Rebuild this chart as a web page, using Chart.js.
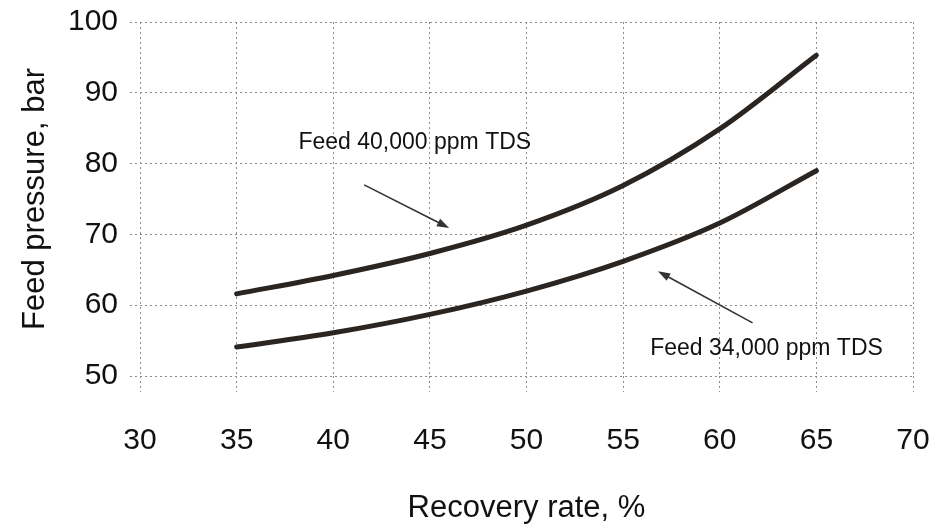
<!DOCTYPE html>
<html>
<head>
<meta charset="utf-8">
<title>Feed pressure vs recovery rate</title>
<script src="https://cdn.jsdelivr.net/npm/chart.js@4"></script>
<style>
    body { margin: 0; background: #fff; }
    #chart { display: block; }
</style>
</head>
<body>
<canvas id="chart" width="948" height="530"></canvas>
<script>
// values
const recovery_rate = [35, 40, 45, 50, 55, 60, 65];
const pressure_40000 = [61.6, 64.2, 67.3, 71.3, 76.9, 84.9, 95.3];
const pressure_34000 = [54.1, 56.1, 58.7, 62.0, 66.2, 71.6, 79.0];
const x_ticks = [30, 35, 40, 45, 50, 55, 60, 65, 70];
const y_ticks = [50, 60, 70, 80, 90, 100];

// callout labels, anchored in data units
const callouts = [
    { text: 'Feed 40,000 ppm TDS', x: 38.2, y: 82.9, from: [41.6, 77.0], to: [46.0, 70.9] },
    { text: 'Feed 34,000 ppm TDS', x: 56.4, y: 53.8, from: [61.7, 57.5], to: [56.8, 64.8] }
];

const FONT = 'Arial, "Liberation Sans", Helvetica, sans-serif';
const INK = '#111111';
const CURVE = '#2b2522';
const GRID = '#8c8c8c';

let pressure_chart;

const calloutPlugin = {
    id: 'callouts',
    afterDatasetsDraw(chart) {
        const ctx = chart.ctx;
        const xs = chart.scales.x;
        const ys = chart.scales.y;
        ctx.save();
        callouts.forEach(c => {
            ctx.font = '23px ' + FONT;
            ctx.fillStyle = INK;
            ctx.textAlign = 'left';
            ctx.textBaseline = 'middle';
            ctx.fillText(c.text, xs.getPixelForValue(c.x), ys.getPixelForValue(c.y));

            const x0 = xs.getPixelForValue(c.from[0]);
            const y0 = ys.getPixelForValue(c.from[1]);
            const x1 = xs.getPixelForValue(c.to[0]);
            const y1 = ys.getPixelForValue(c.to[1]);
            const ang = Math.atan2(y1 - y0, x1 - x0);
            const head = 13;
            ctx.strokeStyle = '#333';
            ctx.lineWidth = 1.6;
            ctx.beginPath();
            ctx.moveTo(x0, y0);
            ctx.lineTo(x1 - head * 0.8 * Math.cos(ang), y1 - head * 0.8 * Math.sin(ang));
            ctx.stroke();
            ctx.fillStyle = '#333';
            ctx.beginPath();
            ctx.moveTo(x1, y1);
            ctx.lineTo(x1 - head * Math.cos(ang - 0.33), y1 - head * Math.sin(ang - 0.33));
            ctx.lineTo(x1 - head * Math.cos(ang + 0.33), y1 - head * Math.sin(ang + 0.33));
            ctx.closePath();
            ctx.fill();
        });
        ctx.restore();
    }
};

setupChart();

function makeSeries(values) {
    return recovery_rate.map((r, i) => ({ x: r, y: values[i] }));
}

function curve(label, values) {
    return {
        label: label,
        data: makeSeries(values),
        borderColor: CURVE,
        borderWidth: 5,
        borderCapStyle: 'round',
        borderJoinStyle: 'round',
        pointRadius: 0,
        cubicInterpolationMode: 'monotone',
        fill: false
    };
}

function setupChart() {
    const ctx = document.getElementById('chart');

    const data = {
        datasets: [
            curve('Feed 40,000 ppm TDS', pressure_40000),
            curve('Feed 34,000 ppm TDS', pressure_34000)
        ]
    };

    pressure_chart = new Chart(ctx, {
        type: 'line',
        data: data,
        plugins: [calloutPlugin],
        options: {
            responsive: false,
            animation: false,
            layout: { padding: { top: 22, right: 35, left: 0, bottom: 0 } },
            plugins: {
                legend: { display: false },
                tooltip: { enabled: false }
            },
            scales: {
                x: {
                    type: 'linear',
                    min: 30,
                    max: 70,
                    afterBuildTicks: axis => { axis.ticks = x_ticks.map(v => ({ value: v })); },
                    afterFit: axis => {
                        axis.height = 154;
                        axis.paddingLeft = 0;
                        axis.paddingRight = 0;
                    },
                    grid: { color: GRID, lineWidth: 1, tickLength: 16, tickBorderDash: [2, 3] },
                    border: { display: false, dash: [2, 3] },
                    ticks: {
                        color: INK,
                        font: { family: FONT, size: 30 },
                        padding: 31,
                        maxRotation: 0
                    },
                    title: {
                        display: true,
                        text: 'Recovery rate, %',
                        color: INK,
                        font: { family: FONT, size: 31 },
                        padding: { top: 0, bottom: 3 }
                    }
                },
                y: {
                    type: 'linear',
                    min: 50,
                    max: 100,
                    afterBuildTicks: axis => { axis.ticks = y_ticks.map(v => ({ value: v })); },
                    afterFit: axis => {
                        axis.width = 140;
                        axis.paddingTop = 0;
                        axis.paddingBottom = 0;
                    },
                    grid: { color: GRID, lineWidth: 1, tickLength: 10, tickBorderDash: [2, 3] },
                    border: { display: false, dash: [2, 3] },
                    ticks: {
                        color: INK,
                        font: { family: FONT, size: 30 },
                        padding: 12
                    },
                    title: {
                        display: true,
                        text: 'Feed pressure, bar',
                        color: INK,
                        font: { family: FONT, size: 31 },
                        padding: { top: 17, bottom: 0 }
                    }
                }
            }
        }
    });
}
</script>
</body>
</html>
